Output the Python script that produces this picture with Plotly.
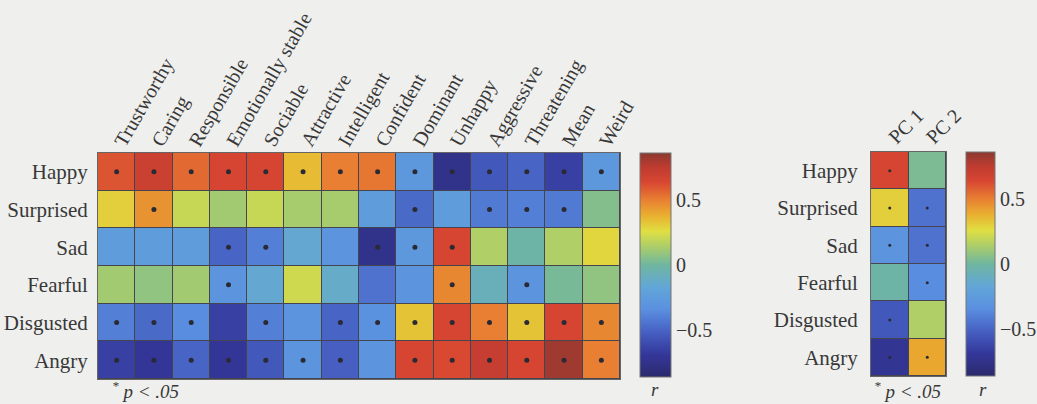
import plotly.graph_objects as go

traits = ["Trustworthy", "Caring", "Responsible", "Emotionally stable", "Sociable",
          "Attractive", "Intelligent", "Confident", "Dominant", "Unhappy",
          "Aggressive", "Threatening", "Mean", "Weird"]
emotions = ["Happy", "Surprised", "Sad", "Fearful", "Disgusted", "Angry"]
pcs = ["PC 1", "PC 2"]

r_happy     = [0.60, 0.70, 0.55, 0.65, 0.65, 0.35, 0.50, 0.52, -0.28, -0.75, -0.55, -0.50, -0.65, -0.28]
r_surprised = [0.30, 0.45, 0.20, 0.12, 0.20, 0.13, 0.13, -0.25, -0.48, -0.25, -0.42, -0.40, -0.42, 0.05]
r_sad       = [-0.25, -0.25, -0.25, -0.50, -0.40, -0.15, -0.30, -0.75, -0.28, 0.65, 0.15, -0.02, 0.15, 0.28]
r_fearful   = [0.12, 0.08, 0.12, -0.30, -0.15, 0.22, -0.12, -0.45, -0.30, 0.48, -0.08, -0.30, 0.02, 0.08]
r_disgusted = [-0.40, -0.48, -0.35, -0.65, -0.40, -0.30, -0.50, -0.32, 0.33, 0.65, 0.50, 0.33, 0.65, 0.48]
r_angry     = [-0.65, -0.70, -0.50, -0.70, -0.55, -0.30, -0.52, -0.30, 0.65, 0.63, 0.72, 0.65, 0.82, 0.50]

sig_happy     = [1, 1, 1, 1, 1, 1, 1, 1, 1, 1, 1, 1, 1, 1]
sig_surprised = [0, 1, 0, 0, 0, 0, 0, 0, 1, 0, 1, 1, 1, 0]
sig_sad       = [0, 0, 0, 1, 1, 0, 0, 1, 1, 1, 0, 0, 0, 0]
sig_fearful   = [0, 0, 0, 1, 0, 0, 0, 0, 0, 1, 0, 1, 0, 0]
sig_disgusted = [1, 1, 1, 0, 1, 0, 1, 1, 1, 1, 1, 1, 1, 1]
sig_angry     = [1, 1, 1, 1, 1, 1, 1, 0, 1, 1, 1, 1, 1, 1]

r_pc1 = [0.65, 0.30, -0.30, -0.02, -0.55, -0.72]
r_pc2 = [0.03, -0.45, -0.45, -0.35, 0.15, 0.40]
sig_pc1 = [1, 1, 1, 0, 1, 1]
sig_pc2 = [0, 1, 1, 1, 0, 1]

cbar_ticks = [-0.5, 0, 0.5]
cbar_ticktext = ["\u22120.5", "0", "0.5"]

Z = [r_happy, r_surprised, r_sad, r_fearful, r_disgusted, r_angry]
S = [sig_happy, sig_surprised, sig_sad, sig_fearful, sig_disgusted, sig_angry]
Zpc = [[a, b] for a, b in zip(r_pc1, r_pc2)]
Spc = [[a, b] for a, b in zip(sig_pc1, sig_pc2)]

W, H = 1037, 404
ZMIN, ZMAX = -0.86, 0.86

cscale = [
    [0.00, "#2b2a6c"],
    [0.10, "#34379a"],
    [0.20, "#4660c2"],
    [0.30, "#5a8fe0"],
    [0.40, "#62a6d8"],
    [0.50, "#6fb6a0"],
    [0.58, "#aacd6a"],
    [0.65, "#e0df42"],
    [0.72, "#e9b030"],
    [0.79, "#e88032"],
    [0.87, "#d84632"],
    [0.94, "#bd3b30"],
    [1.00, "#8a3a30"],
]

FONT = "Liberation Serif"
BG = "#efefed"
TXT = "#383838"

def px_x(v):
    return v / W

def px_y(v):
    return 1 - v / H

fig = go.Figure()

fig.add_trace(go.Heatmap(
    z=Z, x=traits, y=emotions, zmin=ZMIN, zmax=ZMAX, colorscale=cscale,
    xgap=1, ygap=1, xaxis="x", yaxis="y",
    colorbar=dict(
        x=px_x(640), xanchor="left", xpad=0, ypad=0,
        y=px_y(265), yanchor="middle",
        thickness=31, thicknessmode="pixels", len=224, lenmode="pixels",
        outlinewidth=1, outlinecolor="#777777",
        tickvals=cbar_ticks, ticktext=cbar_ticktext, ticks="",
        tickfont=dict(family=FONT, size=20, color=TXT),
    ),
))

sx, sy = [], []
for i, e in enumerate(emotions):
    for j, t in enumerate(traits):
        if S[i][j]:
            sx.append(t)
            sy.append(e)
fig.add_trace(go.Scatter(x=sx, y=sy, mode="markers", xaxis="x", yaxis="y",
                         marker=dict(size=5, color="#2a2a35"), hoverinfo="skip",
                         showlegend=False))

fig.add_trace(go.Heatmap(
    z=Zpc, x=pcs, y=emotions, zmin=ZMIN, zmax=ZMAX, colorscale=cscale,
    xgap=1, ygap=1, xaxis="x2", yaxis="y2",
    colorbar=dict(
        x=px_x(966), xanchor="left", xpad=0, ypad=0,
        y=px_y(264), yanchor="middle",
        thickness=29, thicknessmode="pixels", len=224, lenmode="pixels",
        outlinewidth=1, outlinecolor="#777777",
        tickvals=cbar_ticks, ticktext=cbar_ticktext, ticks="",
        tickfont=dict(family=FONT, size=20, color=TXT),
    ),
))

px2, py2 = [], []
for i, e in enumerate(emotions):
    for j, p in enumerate(pcs):
        if Spc[i][j]:
            px2.append(p)
            py2.append(e)
fig.add_trace(go.Scatter(x=px2, y=py2, mode="markers", xaxis="x2", yaxis="y2",
                         marker=dict(size=3, color="#2a2a35"), hoverinfo="skip",
                         showlegend=False))

axis_common = dict(showgrid=False, zeroline=False, showline=True, linecolor="#666666",
                   linewidth=1, mirror=True, ticks="", automargin=False)

fig.update_layout(
    width=W, height=H,
    margin=dict(l=0, r=0, t=0, b=0, autoexpand=False),
    paper_bgcolor=BG, plot_bgcolor="#45454f",
    showlegend=False,
    xaxis=dict(domain=[px_x(98), px_x(620)], side="top", tickangle=-60,
               range=[-0.5, len(traits) - 0.5],
               tickfont=dict(family=FONT, size=20, color=TXT),
               anchor="y", ticklabelstandoff=-9, **axis_common),
    yaxis=dict(domain=[px_y(379), px_y(153)], range=[len(emotions) - 0.5, -0.5],
               tickfont=dict(family=FONT, size=21, color=TXT),
               anchor="x", ticklabelstandoff=5, **axis_common),
    xaxis2=dict(domain=[px_x(871), px_x(946)], side="top", tickangle=-45,
                range=[-0.5, len(pcs) - 0.5],
                tickfont=dict(family=FONT, size=20, color=TXT),
                anchor="y2", ticklabelstandoff=-5, **axis_common),
    yaxis2=dict(domain=[px_y(376), px_y(152)], range=[len(emotions) - 0.5, -0.5],
                tickfont=dict(family=FONT, size=21, color=TXT),
                anchor="x2", ticklabelstandoff=8, **axis_common),
    annotations=[
        dict(text="<sup>*</sup> p < .05", x=px_x(110), y=px_y(390), xref="paper", yref="paper",
             xanchor="left", yanchor="middle", showarrow=False,
             font=dict(family=FONT, size=19, color=TXT, style="italic")),
        dict(text="<sup>*</sup> p < .05", x=px_x(872), y=px_y(390), xref="paper", yref="paper",
             xanchor="left", yanchor="middle", showarrow=False,
             font=dict(family=FONT, size=19, color=TXT, style="italic")),
        dict(text="r", x=px_x(655), y=px_y(389), xref="paper", yref="paper",
             xanchor="center", yanchor="middle", showarrow=False,
             font=dict(family=FONT, size=19, color=TXT, style="italic")),
        dict(text="r", x=px_x(983), y=px_y(389), xref="paper", yref="paper",
             xanchor="center", yanchor="middle", showarrow=False,
             font=dict(family=FONT, size=19, color=TXT, style="italic")),
    ],
)

fig.write_html("out.html", config={"displayModeBar": False},
               post_script="document.body.style.margin='0';document.body.style.overflow='hidden';")
